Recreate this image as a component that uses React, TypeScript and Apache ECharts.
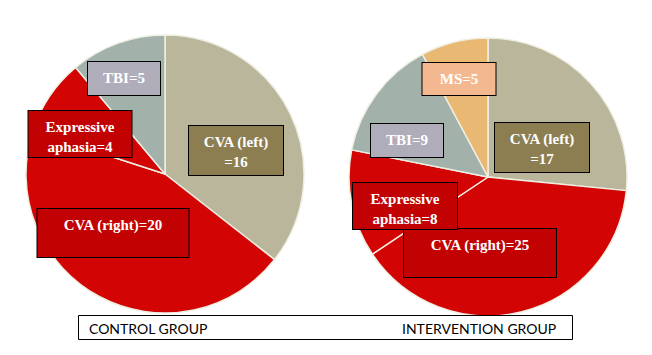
import React, { useEffect, useRef } from "react";
import * as echarts from "echarts";

// Data
const controlCategories = ["CVA (left)", "CVA (right)", "Expressive aphasia", "TBI"];
const controlValues = [16, 20, 4, 5];
const interventionCategories = ["CVA (left)", "CVA (right)", "Expressive aphasia", "TBI", "MS"];
const interventionValues = [17, 25, 8, 9, 5];
const groupLabels = ["CONTROL GROUP", "INTERVENTION GROUP"];

// Styles per category
const sliceColors: Record<string, string> = {
  "CVA (left)": "#bab69c",
  "CVA (right)": "#d20404",
  "Expressive aphasia": "#d20404",
  TBI: "#a2b1aa",
  MS: "#e9b872",
};
const boxColors: Record<string, string> = {
  "CVA (left)": "#8c7e50",
  "CVA (right)": "#c20202",
  "Expressive aphasia": "#c20202",
  TBI: "#b0adbb",
  MS: "#f4b890",
};

// Label box layout [centerX, top, width, height] per series / category
const controlBoxes: Record<string, number[]> = {
  "CVA (left)": [236, 126, 94, 49],
  "CVA (right)": [113, 209, 151, 48],
  "Expressive aphasia": [80, 111, 103, 46],
  TBI: [124, 62, 72, 33],
};
const interventionBoxes: Record<string, number[]> = {
  "CVA (left)": [542, 123, 94, 49],
  "CVA (right)": [480, 229, 152, 48],
  "Expressive aphasia": [405, 183, 104, 46],
  TBI: [407, 124, 72, 33],
  MS: [459, 63, 73, 32],
};

function labelLines(name: string, value: number): string[] {
  if (name === "CVA (left)") return [name, `=${value}`];
  if (name === "Expressive aphasia") return ["Expressive", `aphasia=${value}`];
  return [`${name}=${value}`];
}

const LABEL_FONT = "Liberation Serif";

function buildData(cats: string[], vals: number[], boxes: Record<string, number[]>) {
  return cats.map((c, i) => ({
    name: c,
    value: vals[i],
    itemStyle: { color: sliceColors[c] },
    label: {
      backgroundColor: boxColors[c],
      width: boxes[c][2],
      height: boxes[c][3] - 6,
    },
  }));
}

export default function App() {
  const ref = useRef<HTMLDivElement>(null);
  useEffect(() => {
    if (!ref.current) return;
    const chart = echarts.init(ref.current, undefined, { renderer: "svg" });
    const boxesBySeries = [controlBoxes, interventionBoxes];
    const catsBySeries = [controlCategories, interventionCategories];
    const commonLabel = {
      show: true,
      position: "inside",
      formatter: (p: any) =>
        labelLines(p.name, p.value)
          .map((l) => `{t|${l}}`)
          .join("\n"),
      rich: {
        t: {
          color: "#ffffff",
          fontFamily: LABEL_FONT,
          fontWeight: "bold",
          fontSize: 15,
          lineHeight: 20,
          align: "center",
        },
      },
      color: "#ffffff",
      fontFamily: LABEL_FONT,
      fontWeight: "bold",
      fontSize: 15,
      lineHeight: 20,
      align: "center",
      verticalAlign: "top",
      padding: [6, 0, 0, 0],
      borderColor: "#000000",
      borderWidth: 1,
    };
    const layout = (p: any) => {
      const cat = catsBySeries[p.seriesIndex][p.dataIndex];
      const b = boxesBySeries[p.seriesIndex][cat];
      return { x: b[0], y: b[1], align: "center", verticalAlign: "top" };
    };
    chart.setOption({
      animation: false,
      backgroundColor: "#ffffff",
      series: [
        {
          type: "pie",
          center: [165, 174],
          radius: [0, 139],
          startAngle: 90,
          clockwise: true,
          label: commonLabel,
          labelLine: { show: false },
          labelLayout: layout,
          itemStyle: { borderColor: "#efeee2", borderWidth: 1.5 },
          emphasis: { disabled: true },
          data: buildData(controlCategories, controlValues, controlBoxes),
        },
        {
          type: "pie",
          center: [488, 177],
          radius: [0, 139],
          startAngle: 90,
          clockwise: true,
          label: commonLabel,
          labelLine: { show: false },
          labelLayout: layout,
          itemStyle: { borderColor: "#efeee2", borderWidth: 1.5 },
          emphasis: { disabled: true },
          data: buildData(interventionCategories, interventionValues, interventionBoxes),
        },
      ],
      graphic: [
        {
          type: "rect",
          shape: { x: 78.5, y: 315.5, width: 494, height: 24 },
          style: { fill: "#ffffff", stroke: "#000000", lineWidth: 1 },
          z: 100,
        },
        {
          type: "text",
          x: 89,
          y: 328,
          style: {
            text: groupLabels[0],
            fill: "#000000",
            font: "14px Lato",
            textVerticalAlign: "middle",
          },
          z: 101,
        },
        {
          type: "text",
          x: 402,
          y: 328,
          style: {
            text: groupLabels[1],
            fill: "#000000",
            font: "14px Lato",
            textVerticalAlign: "middle",
          },
          z: 101,
        },
      ],
    });
    return () => chart.dispose();
  }, []);
  return (
    <div
      ref={ref}
      style={{ position: "absolute", left: 0, top: 0, width: 652, height: 355 }}
    />
  );
}
